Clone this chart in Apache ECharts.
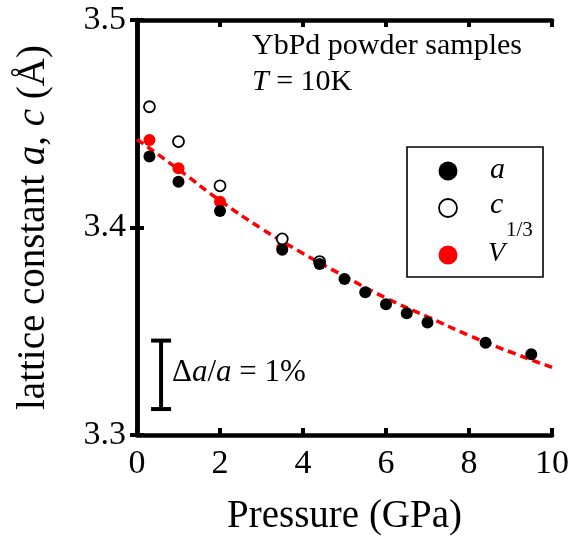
<!DOCTYPE html>
<html>
<head>
<meta charset="utf-8">
<script src="https://cdn.jsdelivr.net/npm/echarts@6/dist/echarts.min.js"></script>
<style>
  html, body { margin: 0; padding: 0; background: #fff; }
  #chart { width: 572px; height: 548px; }
</style>
</head>
<body>
<div id="chart"></div>
<script>
// Lattice constants of YbPd powder under pressure at T = 10 K
const pressureA = [0.3, 1.0, 2.0, 3.5, 4.4, 5.0, 5.5, 6.0, 6.5, 7.0, 8.4, 9.5];
const latticeA  = [3.4342, 3.4220, 3.4080, 3.3893, 3.3824, 3.3752, 3.3688, 3.3630, 3.3587, 3.3542, 3.3445, 3.3389];

const pressureC = [0.3, 1.0, 2.0, 3.5, 4.4];
const latticeC  = [3.4582, 3.4414, 3.4201, 3.3945, 3.3836];

const pressureV = [0.3, 1.0, 2.0, 3.5, 4.4];
const cubeRootV = [3.4422, 3.4285, 3.4124, 3.3902, 3.3828];

// equation-of-state fit of V^(1/3)
const fitPressure = [0, 1, 2, 3, 4, 5, 6, 7, 8, 9, 10];
const fitValue    = [3.4425, 3.4280, 3.4130, 3.3995, 3.3875, 3.3765, 3.3660, 3.3570, 3.3480, 3.3400, 3.3326];

const xTicks = [0, 2, 4, 6, 8, 10];
const yTicks = [3.3, 3.4, 3.5];

// scale bar: 1 % of a reference lattice constant
const scaleBarX = 0.58;
const scaleBarBottom = 3.3125;
const scaleBarRef = 3.3;
const scaleBarFraction = 0.01;

const pairs = (xs, ys) => xs.map((x, i) => [x, ys[i]]);
const SERIF = 'Liberation Serif';

const chart = echarts.init(document.getElementById('chart'));

const axisLine = { show: true, lineStyle: { color: '#000', width: 4.5 } };
const axisTick = { show: true, inside: true, length: 7, lineStyle: { color: '#000', width: 4 } };

function txt(text, size, italic, extra) {
  return Object.assign({
    text: text,
    fontFamily: SERIF,
    fontSize: size,
    fontStyle: italic ? 'italic' : 'normal',
    fill: '#000',
    verticalAlign: 'middle'
  }, extra || {});
}

chart.setOption({
  animation: false,
  backgroundColor: '#fff',
  textStyle: { fontFamily: SERIF },
  grid: { left: 137, right: 20, top: 20, bottom: 113, containLabel: false },
  xAxis: [
    {
      type: 'value', position: 'bottom',
      min: xTicks[0], max: xTicks[xTicks.length - 1], interval: 2,
      axisLine, axisTick, splitLine: { show: false },
      axisLabel: { color: '#000', fontFamily: SERIF, fontSize: 34, margin: 12 },
      name: 'Pressure (GPa)', nameLocation: 'middle', nameGap: 62,
      nameTextStyle: { color: '#000', fontFamily: SERIF, fontSize: 39 }
    },
    {
      type: 'value', position: 'top',
      min: xTicks[0], max: xTicks[xTicks.length - 1], interval: 2,
      axisLine, axisTick, axisLabel: { show: false }, splitLine: { show: false }
    }
  ],
  yAxis: [
    {
      type: 'value', position: 'left',
      min: yTicks[0], max: yTicks[yTicks.length - 1], interval: 0.1,
      axisLine, axisTick, splitLine: { show: false },
      axisLabel: {
        color: '#000', fontFamily: SERIF, fontSize: 34, margin: 11,
        formatter: v => v.toFixed(1)
      },
      name: '{r|lattice constant }{i|a}{r|, }{i|c}{r| (Å)}',
      nameLocation: 'middle', nameGap: 84,
      nameTextStyle: {
        color: '#000', fontFamily: SERIF, fontSize: 39,
        rich: {
          r: { fontFamily: SERIF, fontSize: 39, color: '#000' },
          i: { fontFamily: SERIF, fontSize: 39, color: '#000', fontStyle: 'italic' }
        }
      }
    },
    {
      type: 'value', position: 'right',
      min: yTicks[0], max: yTicks[yTicks.length - 1], interval: 0.1,
      axisLine, axisTick, axisLabel: { show: false }, splitLine: { show: false }
    }
  ],
  series: [
    {
      name: 'fit',
      type: 'line',
      data: pairs(fitPressure, fitValue),
      smooth: true,
      showSymbol: false,
      lineStyle: { color: '#ff0000', width: 3.5, type: [8, 5] },
      z: 1
    },
    {
      name: 'V^1/3',
      type: 'scatter',
      data: pairs(pressureV, cubeRootV),
      symbol: 'circle', symbolSize: 12,
      itemStyle: { color: '#ff0000', opacity: 1 },
      z: 2
    },
    {
      name: 'c',
      type: 'scatter',
      data: pairs(pressureC, latticeC),
      symbol: 'circle', symbolSize: 11,
      itemStyle: { color: '#fff', borderColor: '#000', borderWidth: 1.8, opacity: 1 },
      z: 3
    },
    {
      name: 'a',
      type: 'scatter',
      data: pairs(pressureA, latticeA),
      symbol: 'circle', symbolSize: 12,
      itemStyle: { color: '#000', opacity: 1 },
      z: 4
    },
    {
      name: 'scale bar',
      type: 'custom',
      data: [[scaleBarX, scaleBarBottom, scaleBarBottom + scaleBarRef * scaleBarFraction]],
      renderItem: (params, api) => {
        const lo = api.coord([api.value(0), api.value(1)]);
        const hi = api.coord([api.value(0), api.value(2)]);
        const half = 10;
        const style = { stroke: '#000', lineWidth: 4, fill: null };
        return {
          type: 'group',
          children: [
            { type: 'line', shape: { x1: lo[0], y1: lo[1], x2: hi[0], y2: hi[1] }, style },
            { type: 'line', shape: { x1: lo[0] - half, y1: lo[1], x2: lo[0] + half, y2: lo[1] }, style },
            { type: 'line', shape: { x1: hi[0] - half, y1: hi[1], x2: hi[0] + half, y2: hi[1] }, style }
          ]
        };
      },
      z: 5
    }
  ],
  graphic: [
    { type: 'text', x: 252, y: 46, style: txt('YbPd powder samples', 30, false) },
    {
      type: 'text', x: 252, y: 82,
      style: txt('{i|T}{r| = 10K}', 30, false, {
        rich: {
          i: { fontFamily: SERIF, fontSize: 30, fontStyle: 'italic', fill: '#000' },
          r: { fontFamily: SERIF, fontSize: 30, fill: '#000' }
        }
      })
    },
    {
      type: 'text', x: 172, y: 373,
      style: txt('{r|Δ}{i|a}{r|/}{i|a}{r| = 1%}', 31, false, {
        rich: {
          i: { fontFamily: SERIF, fontSize: 31, fontStyle: 'italic', fill: '#000' },
          r: { fontFamily: SERIF, fontSize: 31, fill: '#000' }
        }
      })
    },
    // legend box
    {
      type: 'group',
      children: [
        { type: 'rect', shape: { x: 407, y: 147, width: 136, height: 130 }, style: { fill: '#fff', stroke: '#000', lineWidth: 1.6 } },
        { type: 'circle', shape: { cx: 448, cy: 171, r: 9.5 }, style: { fill: '#000' } },
        { type: 'circle', shape: { cx: 448, cy: 208, r: 9 }, style: { fill: '#fff', stroke: '#000', lineWidth: 1.8 } },
        { type: 'circle', shape: { cx: 448, cy: 255, r: 9.5 }, style: { fill: '#ff0000' } },
        { type: 'text', x: 490, y: 170, style: txt('a', 30, true) },
        { type: 'text', x: 490, y: 205, style: txt('c', 30, true) },
        { type: 'text', x: 488, y: 254, style: txt('V', 28, true) },
        { type: 'text', x: 506, y: 230, style: txt('1/3', 21, false) }
      ]
    }
  ]
});
</script>
</body>
</html>
